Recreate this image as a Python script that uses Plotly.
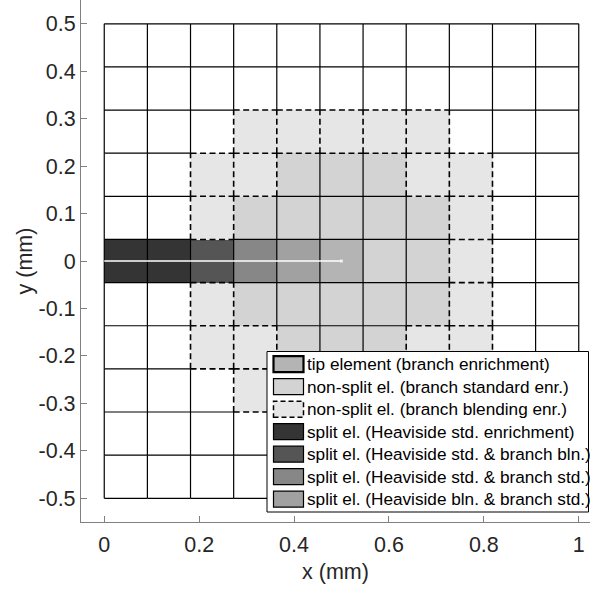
import plotly.graph_objects as go

# ---- mesh and element classification -------------------------------------
N_EL = 11
x_edges = [i / N_EL for i in range(N_EL + 1)]
y_edges = [-0.5 + j / N_EL for j in range(N_EL + 1)]

# element type per cell, bottom row first
# 0 plain, 1 tip, 2 branch std, 3 branch blending,
# 4 split H std, 5 split H std + branch bln, 6 split H std + branch std,
# 7 split H bln + branch std
element_rows = [
    [0, 0, 0, 0, 0, 0, 0, 0, 0, 0, 0],
    [0, 0, 0, 0, 0, 0, 0, 0, 0, 0, 0],
    [0, 0, 0, 3, 3, 3, 3, 3, 0, 0, 0],
    [0, 0, 3, 3, 2, 2, 2, 3, 3, 0, 0],
    [0, 0, 3, 2, 2, 2, 2, 2, 3, 0, 0],
    [4, 4, 5, 6, 7, 1, 2, 2, 3, 0, 0],
    [0, 0, 3, 2, 2, 2, 2, 2, 3, 0, 0],
    [0, 0, 3, 3, 2, 2, 2, 3, 3, 0, 0],
    [0, 0, 0, 3, 3, 3, 3, 3, 0, 0, 0],
    [0, 0, 0, 0, 0, 0, 0, 0, 0, 0, 0],
    [0, 0, 0, 0, 0, 0, 0, 0, 0, 0, 0],
]

type_colors = ["#ffffff", "#b4b4b4", "#d3d3d3", "#e6e6e6",
               "#343434", "#555555", "#878787", "#a1a1a1"]
type_labels = [
    "",
    "tip element (branch enrichment)",
    "non-split el. (branch standard enr.)",
    "non-split el. (branch blending enr.)",
    "split el. (Heaviside std. enrichment)",
    "split el. (Heaviside std. & branch bln.)",
    "split el. (Heaviside std. & branch std.)",
    "split el. (Heaviside bln. & branch std.)",
]
BLENDING = 3
TIP = 1

# crack path (white line) ending at the tip
crack_x = [0.0, 0.5]
crack_y = [0.0, 0.0]

x_tickvals = [0, 0.2, 0.4, 0.6, 0.8, 1]
x_ticktext = ["0", "0.2", "0.4", "0.6", "0.8", "1"]
y_tickvals = [-0.5, -0.4, -0.3, -0.2, -0.1, 0, 0.1, 0.2, 0.3, 0.4, 0.5]
y_ticktext = ["-0.5", "-0.4", "-0.3", "-0.2", "-0.1", "0",
              "0.1", "0.2", "0.3", "0.4", "0.5"]

FONT = "Liberation Sans, Arial, Helvetica, sans-serif"
AXIS_GREY = "#808080"
TEXT_GREY = "#262626"

fig = go.Figure()

# element fills
n_types = len(type_colors)
colorscale = []
for k, c in enumerate(type_colors):
    colorscale.append([k / n_types, c])
    colorscale.append([(k + 1) / n_types, c])

fig.add_trace(go.Heatmap(
    x=x_edges, y=y_edges, z=element_rows,
    zmin=-0.5, zmax=n_types - 0.5,
    colorscale=colorscale, showscale=False, hoverinfo="skip",
))

# element edges: dashed wherever a blending element touches the edge
solid_x, solid_y, dash_x, dash_y = [], [], [], []


def cell(j, i):
    if 0 <= j < N_EL and 0 <= i < N_EL:
        return element_rows[j][i]
    return None


for i in range(N_EL + 1):
    for j in range(N_EL):
        dashed = BLENDING in (cell(j, i - 1), cell(j, i))
        xs, ys = (dash_x, dash_y) if dashed else (solid_x, solid_y)
        xs += [x_edges[i], x_edges[i], None]
        ys += [y_edges[j], y_edges[j + 1], None]
for j in range(N_EL + 1):
    for i in range(N_EL):
        dashed = BLENDING in (cell(j - 1, i), cell(j, i))
        xs, ys = (dash_x, dash_y) if dashed else (solid_x, solid_y)
        xs += [x_edges[i], x_edges[i + 1], None]
        ys += [y_edges[j], y_edges[j], None]

fig.add_trace(go.Scatter(x=solid_x, y=solid_y, mode="lines",
                         line=dict(color="black", width=1.2),
                         hoverinfo="skip", showlegend=False))
fig.add_trace(go.Scatter(x=dash_x, y=dash_y, mode="lines",
                         line=dict(color="black", width=1.6, dash="6px,3.5px"),
                         hoverinfo="skip", showlegend=False))

# crack
fig.add_trace(go.Scatter(x=crack_x, y=crack_y, mode="lines+markers",
                         line=dict(color="white", width=1.3),
                         marker=dict(symbol="square", size=[0, 3], color="white",
                                     line=dict(width=0)),
                         hoverinfo="skip", showlegend=False))

# ---- legend box (paper coordinates) --------------------------------------
ML, MB, W, H = 81, 70, 590, 592
PW, PH = W - ML, H - MB


def px(v):
    return (v - ML) / PW


def py(v):
    return (PH - v) / PH


shapes = [dict(type="rect", xref="paper", yref="paper",
               x0=px(267), x1=px(588.5), y0=py(512), y1=py(351.5),
               fillcolor="white", line=dict(color="black", width=1),
               layer="above")]
annotations = []
row0, step = 364.2, 22.5
for r, code in enumerate(range(1, n_types)):
    yc = row0 + r * step
    border = dict(color="black", width=2.2 if code == TIP else 1.2)
    if code == BLENDING:
        border["dash"] = "5px,3px"
        border["width"] = 1.5
    shapes.append(dict(type="rect", xref="paper", yref="paper",
                       x0=px(273.5), x1=px(303.5), y0=py(yc + 8), y1=py(yc - 8),
                       fillcolor=type_colors[code], line=border, layer="above"))
    annotations.append(dict(xref="paper", yref="paper", x=px(305), y=py(yc),
                            xanchor="left", yanchor="middle", showarrow=False,
                            text=type_labels[code],
                            font=dict(family=FONT, size=17.2, color="black")))

fig.update_layout(
    width=W, height=H,
    margin=dict(l=ML, r=0, t=0, b=MB, pad=0),
    paper_bgcolor="white", plot_bgcolor="white",
    showlegend=False,
    font=dict(family=FONT, size=21.5, color=TEXT_GREY),
    shapes=shapes, annotations=annotations,
    xaxis=dict(range=[-0.049, -0.049 + PW / 474.5], showgrid=False, zeroline=False,
               showline=True, linecolor=AXIS_GREY, linewidth=1.2,
               ticks="inside", ticklen=6, tickcolor=AXIS_GREY, tickwidth=1,
               tickvals=x_tickvals, ticktext=x_ticktext,
               tickfont=dict(size=21.5, color=TEXT_GREY), ticklabelstandoff=3,
               title=dict(text="x (mm)", standoff=8,
                          font=dict(size=21.5, color=TEXT_GREY))),
    yaxis=dict(range=[-0.55, -0.55 + PH / 474.5], showgrid=False, zeroline=False,
               showline=True, linecolor=AXIS_GREY, linewidth=1.2,
               ticks="inside", ticklen=6, tickcolor=AXIS_GREY, tickwidth=1,
               tickvals=y_tickvals, ticktext=y_ticktext,
               tickfont=dict(size=21.5, color=TEXT_GREY), ticklabelstandoff=0,
               title=dict(text="y (mm)", standoff=0,
                          font=dict(size=21.5, color=TEXT_GREY))),
)

fig.write_html("out.html")
